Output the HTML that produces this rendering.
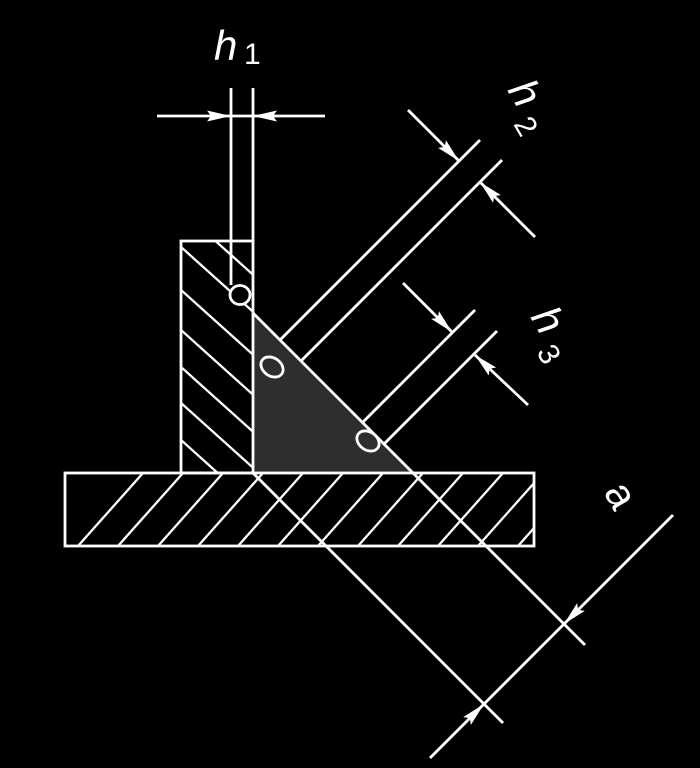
<!DOCTYPE html>
<html><head><meta charset="utf-8"><style>
html,body{margin:0;padding:0;background:#000;width:700px;height:768px;overflow:hidden}
svg{display:block}
text{font-family:"Liberation Sans",sans-serif;fill:#fff}
</style></head><body>
<svg width="700" height="768" viewBox="0 0 700 768">
<defs>
<clipPath id="cv"><rect x="181" y="241" width="72" height="232"/></clipPath>
<clipPath id="cb"><rect x="65" y="473" width="469" height="73"/></clipPath>
<marker id="ar" viewBox="0 0 24 12" refX="24" refY="6" markerWidth="24" markerHeight="12" markerUnits="userSpaceOnUse" orient="auto"><path d="M0,0.5 L24,6 L0,11.5 L4,6 Z" fill="#fff"/></marker>
</defs>
<g stroke="#fff" stroke-width="2.8" fill="none">
<polygon points="253,313 253,473 413,473" fill="#2e2e2e" stroke="none"/>
<g clip-path="url(#cv)" stroke-width="2.3">
<line x1="181" y1="210" x2="260" y2="281"/>
<line x1="181" y1="247" x2="260" y2="318"/>
<line x1="181" y1="290" x2="260" y2="361"/>
<line x1="181" y1="330" x2="260" y2="401"/>
<line x1="181" y1="367" x2="260" y2="438"/>
<line x1="181" y1="403" x2="260" y2="474"/>
<line x1="181" y1="440" x2="260" y2="511"/>
</g>
<g clip-path="url(#cb)" stroke-width="2.3">
<line x1="143" y1="473" x2="78" y2="546"/>
<line x1="183" y1="473" x2="118" y2="546"/>
<line x1="223" y1="473" x2="158" y2="546"/>
<line x1="263" y1="473" x2="198" y2="546"/>
<line x1="303" y1="473" x2="238" y2="546"/>
<line x1="343" y1="473" x2="278" y2="546"/>
<line x1="383" y1="473" x2="318" y2="546"/>
<line x1="423" y1="473" x2="358" y2="546"/>
<line x1="463" y1="473" x2="398" y2="546"/>
<line x1="503" y1="473" x2="438" y2="546"/>
<line x1="543" y1="473" x2="478" y2="546"/>
<line x1="583" y1="473" x2="518" y2="546"/>
</g>
<rect x="181" y="241" width="72" height="232"/>
<rect x="65" y="473" width="469" height="73"/>
<line x1="253" y1="313" x2="585" y2="645"/>
<line x1="253" y1="473" x2="503" y2="723"/>
<line x1="673" y1="515" x2="564" y2="624" marker-end="url(#ar)"/>
<line x1="430" y1="758" x2="484" y2="704" marker-end="url(#ar)"/>
<line x1="564" y1="624" x2="484" y2="704"/>
<line x1="231" y1="88" x2="231" y2="285"/>
<line x1="253" y1="88" x2="253" y2="241"/>
<line x1="157" y1="116" x2="231" y2="116" marker-end="url(#ar)"/>
<line x1="325" y1="116" x2="253" y2="116" marker-end="url(#ar)"/>
<line x1="231" y1="116" x2="253" y2="116"/>
<line x1="280" y1="340" x2="480" y2="140"/>
<line x1="301" y1="361" x2="502" y2="160"/>
<line x1="408" y1="110" x2="459" y2="161" marker-end="url(#ar)"/>
<line x1="535" y1="237" x2="480" y2="182" marker-end="url(#ar)"/>
<line x1="362" y1="423" x2="475" y2="310"/>
<line x1="383" y1="445" x2="497" y2="331"/>
<line x1="403" y1="283" x2="452" y2="332" marker-end="url(#ar)"/>
<line x1="528" y1="405" x2="475" y2="355" marker-end="url(#ar)"/>
<ellipse cx="240" cy="295" rx="10" ry="9.5" fill="#000"/>
<ellipse cx="272" cy="367" rx="12" ry="9" transform="rotate(35 272 367)" fill="#2e2e2e"/>
<ellipse cx="368" cy="441" rx="12" ry="9" transform="rotate(35 368 441)" fill="#2e2e2e"/>
</g>
<text x="214" y="60" font-size="42" font-style="italic">h</text>
<text x="244" y="64" font-size="30">1</text>
<text font-size="42" font-style="italic" transform="translate(507,90) rotate(60)">h</text>
<text font-size="30" transform="translate(513,124) rotate(60)">2</text>
<text font-size="42" font-style="italic" transform="translate(530,317) rotate(60)">h</text>
<text font-size="30" transform="translate(536,352) rotate(60)">3</text>
<text font-size="42" transform="translate(603,492) rotate(60)">a</text>
</svg>
</body></html>
